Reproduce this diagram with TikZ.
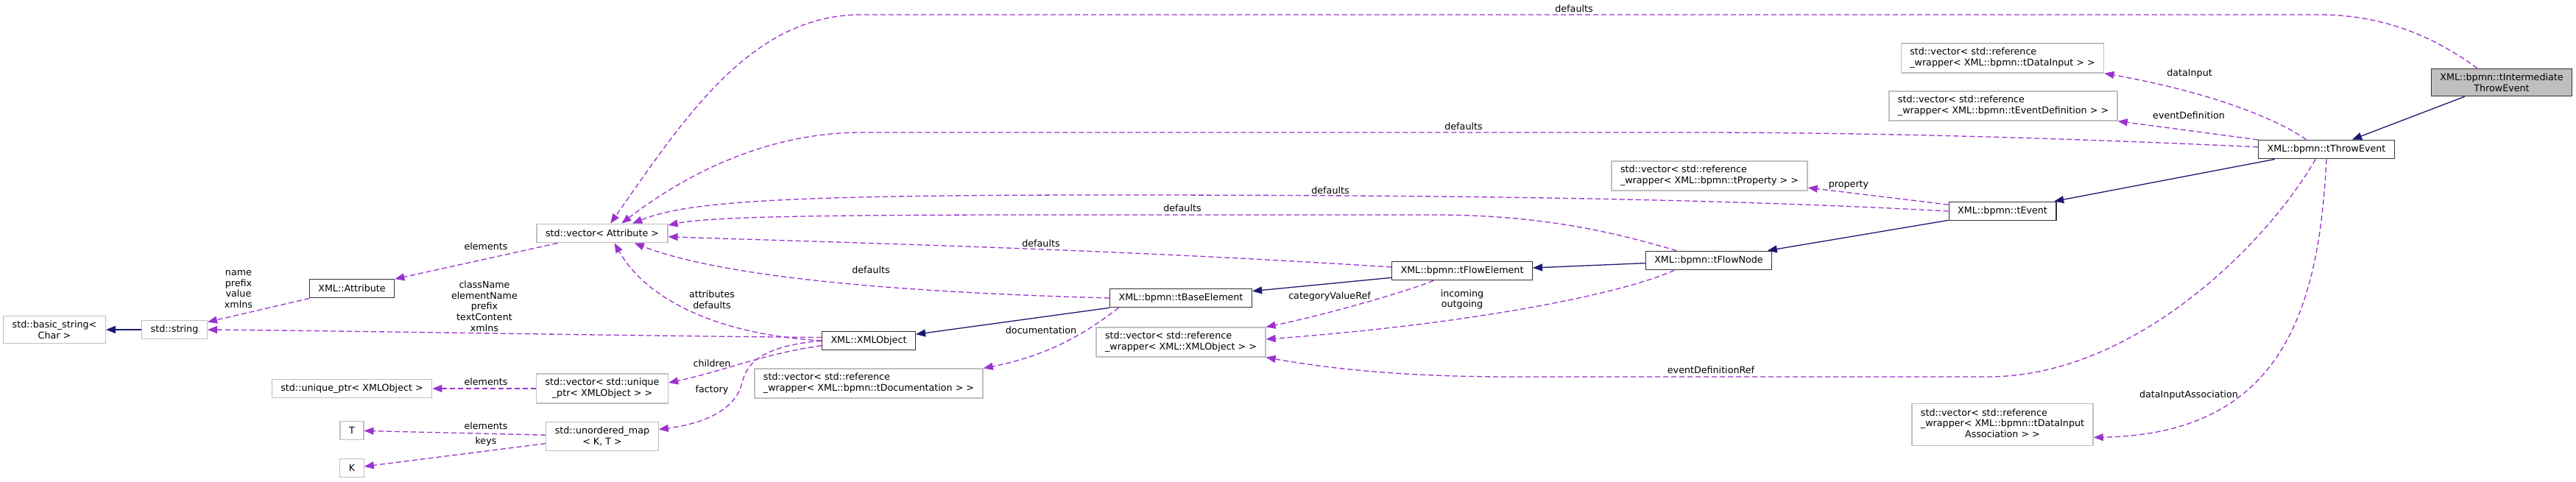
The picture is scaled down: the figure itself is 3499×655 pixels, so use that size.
\documentclass[tikz,border=0pt]{standalone}
\usepackage{fontspec}
\newfontfamily\dxfont{DejaVu Sans}
\usetikzlibrary{arrows.meta}
\definecolor{edgeblue}{HTML}{191970}
\definecolor{edgeorchid}{HTML}{9A32CD}
\definecolor{boxgray}{HTML}{BFBFBF}
\newcommand{\dxtext}{\dxfont\fontsize{12.7}{14.7}\selectfont}
\tikzset{
  box/.style={draw, line width=1.3pt, inner xsep=12pt, inner ysep=6.3pt,
    minimum height=25.5pt, font=\dxtext, align=center},
  cls/.style={box, draw=black!80},
  ext/.style={box, draw=boxgray},
  focal/.style={cls, fill=boxgray},
  inherit/.style={draw=edgeblue, line width=1.3pt, -{Triangle[length=13pt,width=10pt]}},
  member/.style={draw=edgeorchid, line width=1.3pt, dash pattern=on 7pt off 4pt,
    -{Triangle[length=13pt,width=10pt]}},
  elabel/.style={inner sep=0pt, font=\dxtext, align=center}
}
\begin{document}
\begin{tikzpicture}[x=1pt,y=-1pt]
\useasboundingbox (0,0) rectangle (3499,655);
% classes
\node[focal] (ite) at (3398,112) {XML::bpmn::tIntermediate\\ThrowEvent};
\node[cls] (throwev) at (3160,203) {XML::bpmn::tThrowEvent};
\node[cls] (event) at (2720,287) {XML::bpmn::tEvent};
\node[cls] (flownode) at (2321,354) {XML::bpmn::tFlowNode};
\node[cls] (flowelem) at (1986,368) {XML::bpmn::tFlowElement};
\node[cls] (baseel) at (1604,405) {XML::bpmn::tBaseElement};
\node[cls] (xmlobj) at (1180,463) {XML::XMLObject};
\node[cls] (attr) at (478,392) {XML::Attribute};
% member types
\node[ext] (vattr) at (818,317) {std::vector< Attribute >};
\node[ext] (str) at (237,448) {std::string};
\node[ext] (bstr) at (74,448) {std::basic\_string<\\Char >};
\node[ext] (vuptr) at (818,528) {std::vector< std::unique\\\_ptr< XMLObject > >};
\node[ext] (uptr) at (478,528) {std::unique\_ptr< XMLObject >};
\node[ext] (umap) at (818,593) {std::unordered\_map\\< K, T >};
\node[ext] (tT) at (478,585) {T};
\node[ext] (tK) at (478,636) {K};
\node[ext, align=left] (vdoc) at (1180,521) {std::vector< std::reference\\\_wrapper< XML::bpmn::tDocumentation > >};
\node[ext, align=left] (vxref) at (1604,465) {std::vector< std::reference\\\_wrapper< XML::XMLObject > >};
\node[ext, align=left] (vprop) at (2322,239) {std::vector< std::reference\\\_wrapper< XML::bpmn::tProperty > >};
\node[ext, align=left] (vdin) at (2720,79) {std::vector< std::reference\\\_wrapper< XML::bpmn::tDataInput > >};
\node[ext, align=left] (vevdef) at (2721,144) {std::vector< std::reference\\\_wrapper< XML::bpmn::tEventDefinition > >};
\node[ext] (vdia) at (2720,577) {\begin{tabular}{@{}l@{}}std::vector< std::reference\\\_wrapper< XML::bpmn::tDataInput\\\multicolumn{1}{@{}c@{}}{Association > >}\end{tabular}};

% inheritance
\draw[inherit] (ite) -- (throwev);
\draw[inherit] (throwev) -- (event);
\draw[inherit] (event) -- (flownode);
\draw[inherit] (flownode) -- (flowelem);
\draw[inherit] (flowelem) -- (baseel);
\draw[inherit] (baseel) -- (xmlobj);
\draw[inherit] (str) -- (bstr);

% usage
\draw[member] (ite.150) .. controls (3300,45) and (3230,20) .. (3150,20) -- (1170,20)
  .. controls (1020,20) and (930,160) .. (vattr.50);
\draw[member] (throwev.178) .. controls (2900,192) and (2600,180) .. (2300,180) -- (1170,180)
  .. controls (1050,180) and (940,230) .. (vattr.27);
\draw[member] (throwev.154) .. controls (3090,160) and (3000,125) .. (vdin.south east);
\draw[member] (throwev.172) -- (vevdef.south east);
\draw[member] (throwev.222) .. controls (3080,330) and (2900,512) .. (2700,512) -- (2050,512)
  .. controls (1900,512) and (1800,500) .. (vxref.south east);
\draw[member] (throwev.south) .. controls (3150,420) and (3100,590) .. (vdia.-8);
\draw[member] (event.west) .. controls (2300,268) and (1900,265) .. (1500,265)
  .. controls (1050,265) and (930,275) .. (vattr.18);
\draw[member] (event) -- (vprop);
\draw[member] (flownode.163) .. controls (2200,318) and (2100,292) .. (1950,292) -- (1400,292)
  .. controls (1100,292) and (960,295) .. (vattr.7);
\draw[member] (flownode.196) .. controls (2200,400) and (2000,440) .. (vxref.2);
\draw[member] (flowelem.177) .. controls (1500,338) and (1150,330) .. (vattr.-3);
\draw[member] (flowelem.199) .. controls (1900,400) and (1790,430) .. (vxref.north east);
\draw[member] (baseel.west) .. controls (1250,398) and (990,380) .. (vattr.-17);
\draw[member] (baseel.189) .. controls (1490,440) and (1440,480) .. (vdoc.north east);
\draw[member] (xmlobj.176) .. controls (900,457) and (500,450) .. (str.east);
\draw[member] (xmlobj.west) .. controls (980,455) and (880,410) .. (vattr.-39);
\draw[member] (xmlobj.186) .. controls (1040,480) and (980,505) .. (vuptr.5);
\draw[member] (xmlobj.west) .. controls (1040,470) and (1015,490) .. (1008,520)
  .. controls (1000,555) and (960,575) .. (umap.7);
\draw[member] (vattr) -- (attr);
\draw[member] (attr) -- (str);
\draw[member] (vuptr) -- (uptr);
\draw[member] (umap) -- (tT);
\draw[member] (umap) -- (tK);

% edge labels
\node[elabel] (ldefite) at (2138,12) {defaults};
\node[elabel] (ldatain) at (2974,100) {dataInput};
\node[elabel] (levdef) at (2973,157) {eventDefinition};
\node[elabel] (ldefthrow) at (1988,172) {defaults};
\node[elabel] (lprop) at (2511,251) {property};
\node[elabel] (ldefevent) at (1807,259) {defaults};
\node[elabel] (ldefnode) at (1606,283) {defaults};
\node[elabel] (ldefelem) at (1414,331) {defaults};
\node[elabel] (lelemattr) at (660,335) {elements};
\node[elabel] (ldefbase) at (1183,367) {defaults};
\node[elabel] (lstrattr) at (324,393) {name\\prefix\\value\\xmlns};
\node[elabel] (lstrobj) at (658,416) {className\\elementName\\prefix\\textContent\\xmlns};
\node[elabel] (lattrobj) at (967,407) {attributes\\defaults};
\node[elabel] (lcatref) at (1806,403) {categoryValueRef};
\node[elabel] (linout) at (1986,407) {incoming\\outgoing};
\node[elabel] (ldoc) at (1414,449) {documentation};
\node[elabel] (lchild) at (967,494) {children};
\node[elabel] (levref) at (2324,503) {eventDefinitionRef};
\node[elabel] (lelemuptr) at (660,519) {elements};
\node[elabel] (lfactory) at (967,530) {factory};
\node[elabel] (ldiassoc) at (2973,537) {dataInputAssociation};
\node[elabel] (lelemT) at (660,579) {elements};
\node[elabel] (lkeys) at (660,600) {keys};
\end{tikzpicture}
\end{document}
